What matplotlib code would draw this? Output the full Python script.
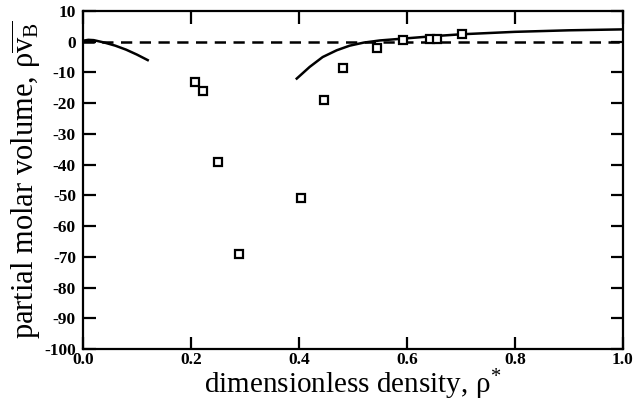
import numpy as np
import matplotlib
matplotlib.use("Agg")
import matplotlib.pyplot as plt

# experimental points (squares)
rho_exp = [0.207, 0.223, 0.250, 0.289, 0.404, 0.446, 0.481, 0.544, 0.593, 0.643, 0.655, 0.702]
vb_exp = [-13, -16, -39, -69, -51, -19, -8.5, -2, 0.5, 1, 1, 2.5]

# theory, low density branch
rho_low = [0.0, 0.01, 0.02, 0.04, 0.06, 0.08, 0.10, 0.12]
vb_low = [0.3, 0.6, 0.5, -0.3, -1.3, -2.6, -4.2, -6.0]

# theory, high density branch
rho_high = [0.396, 0.42, 0.444, 0.47, 0.494, 0.52, 0.55, 0.60, 0.65, 0.70, 0.80, 0.90, 1.0]
vb_high = [-12, -8.2, -5.0, -2.8, -1.3, -0.3, 0.4, 1.1, 1.8, 2.4, 3.2, 3.7, 4.0]

plt.rcParams['font.family'] = ['Liberation Serif', 'DejaVu Serif']
plt.rcParams['mathtext.fontset'] = 'custom'
plt.rcParams['mathtext.rm'] = 'Liberation Serif'
plt.rcParams['mathtext.it'] = 'Liberation Serif'
plt.rcParams['axes.unicode_minus'] = False

fig = plt.figure(figsize=(6.33, 4.05), dpi=100)
ax = fig.add_axes([0.131, 0.138, 0.853, 0.835])

ax.axhline(0, color='black', lw=1.8, ls=(0, (4.5, 3)))
ax.plot(rho_low, vb_low, color='black', lw=1.8)
ax.plot(rho_high, vb_high, color='black', lw=1.8)
ax.plot(rho_exp, vb_exp, ls='none', marker='s', ms=6, mfc='white',
        mec='black', mew=1.6)

ax.set_xlim(0, 1)
ax.set_ylim(-100, 10)
ax.set_xticks(np.arange(0, 1.01, 0.2))
ax.set_yticks(np.arange(-100, 11, 10))
ax.set_xticklabels(['0.0', '0.2', '0.4', '0.6', '0.8', '1.0'])
ax.tick_params(direction='in', length=9, width=1.6, top=True, right=True,
               labelsize=12.5)
ax.tick_params(axis='x', pad=2)
ax.tick_params(axis='y', pad=5)
for lab in ax.get_xticklabels() + ax.get_yticklabels():
    lab.set_fontweight('bold')
for s in ax.spines.values():
    s.set_linewidth(1.6)

ax.set_xlabel(r'dimensionless density, $\rho^{*}$', fontsize=21, labelpad=0)
ax.set_ylabel(r'partial molar volume, $\rho\overline{\mathrm{v}_\mathrm{B}}$',
              fontsize=22, labelpad=1)

fig.savefig('out.png', dpi=100)
